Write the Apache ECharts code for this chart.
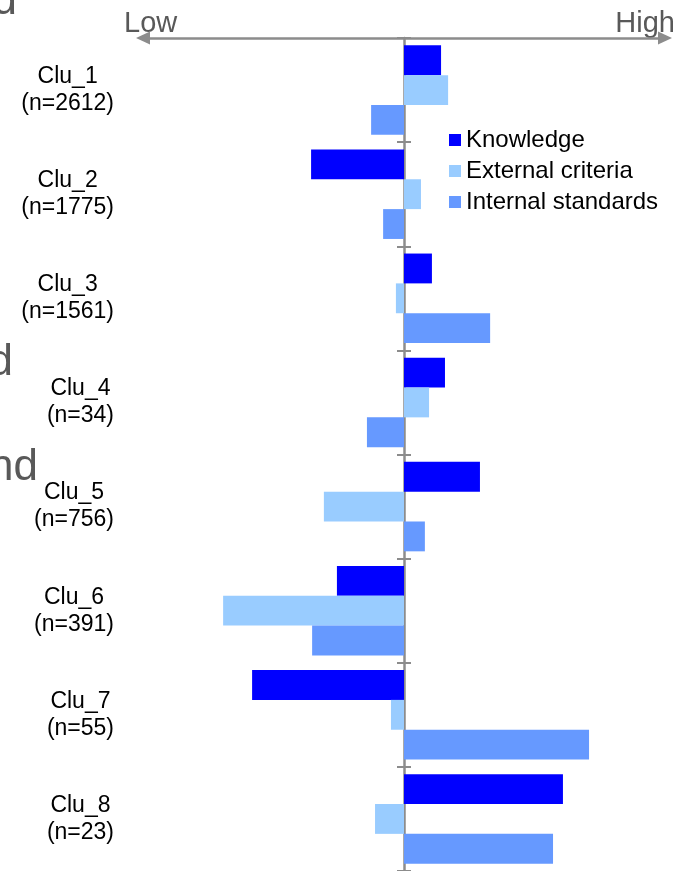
<!DOCTYPE html>
<html>
    <head>
        <meta charset="UTF-8">
        <title>Cluster profiles</title>
        <script src="https://cdn.jsdelivr.net/npm/echarts@6/dist/echarts.min.js"></script>
    </head>
    <body style="margin:0;background:#fff">
    <div id="main" style="width:684px;height:871px;"></div>
    <script type="text/javascript">
        // 数据
        var clusters = ['Clu_1', 'Clu_2', 'Clu_3', 'Clu_4', 'Clu_5', 'Clu_6', 'Clu_7', 'Clu_8'];
        var counts = [2612, 1775, 1561, 34, 756, 391, 55, 23];
        var knowledge = [0.142, -0.356, 0.107, 0.157, 0.291, -0.257, -0.582, 0.609];
        var external = [0.169, 0.065, -0.031, 0.096, -0.307, -0.693, -0.050, -0.111];
        var internal = [-0.126, -0.080, 0.330, -0.142, 0.080, -0.352, 0.709, 0.571];
        var seriesNames = ['Knowledge', 'External criteria', 'Internal standards'];
        var colors = ['#0000FF', '#99CCFF', '#6699FF'];

        var font = 'Liberation Sans, Arial, sans-serif';
        var grey = '#8c8c8c';

        var myChart = echarts.init(document.getElementById('main'));

        // 刻度轴（中间竖线），左右各一条，刻度朝外
        function tickAxis(pos, showLine) {
            return {
                type: 'category',
                data: clusters,
                inverse: true,
                position: pos,
                offset: -261,
                axisLine: { show: showLine, lineStyle: { color: grey, width: 2.5 } },
                axisTick: { show: true, inside: false, length: 7, lineStyle: { color: grey, width: 2 } },
                axisLabel: { show: false },
                splitLine: { show: false }
            };
        }

        var option = {
            backgroundColor: '#FFFFFF',
            animation: false,
            color: colors,
            grid: { left: 143, top: 38, width: 522, height: 835 },
            legend: {
                orient: 'vertical',
                left: 449,
                top: 128,
                padding: 0,
                icon: 'rect',
                itemWidth: 12,
                itemHeight: 12,
                itemGap: 7,
                textStyle: { fontFamily: font, fontSize: 24, lineHeight: 24, color: '#000' },
                data: seriesNames
            },
            xAxis: {
                type: 'value',
                position: 'top',
                min: -1,
                max: 1,
                axisLine: {
                    show: true,
                    onZero: false,
                    symbol: ['triangle', 'triangle'],
                    symbolSize: [13, 14],
                    lineStyle: { color: grey, width: 2.5 }
                },
                axisTick: { show: false },
                axisLabel: { show: false },
                splitLine: { show: false }
            },
            yAxis: [
                {
                    type: 'category',
                    data: clusters,
                    inverse: true,
                    position: 'left',
                    axisLine: { show: false },
                    axisTick: { show: false },
                    axisLabel: {
                        margin: 29,
                        align: 'right',
                        formatter: function (v, i) {
                            return '{a|' + v + '}\n{a|(n=' + counts[i] + ')}';
                        },
                        rich: {
                            a: { align: 'center', fontFamily: font, fontSize: 23, lineHeight: 27, color: '#000' }
                        }
                    }
                },
                tickAxis('left', true),
                tickAxis('right', false)
            ],
            graphic: [
                { type: 'text', left: 124, top: 9, style: { text: 'Low', fontFamily: font, fontSize: 29, fill: '#595959' } },
                { type: 'text', right: 9, top: 9, style: { text: 'High', fontFamily: font, fontSize: 29, fill: '#595959' } },
                { type: 'text', x: 17, y: 2, style: { text: 'd', align: 'right', verticalAlign: 'middle', fontFamily: font, fontSize: 44, fill: '#595959' } },
                { type: 'text', x: 13, y: 363, style: { text: 'd', align: 'right', verticalAlign: 'middle', fontFamily: font, fontSize: 44, fill: '#595959' } },
                { type: 'text', x: 38, y: 468, style: { text: 'nd', align: 'right', verticalAlign: 'middle', fontFamily: font, fontSize: 44, fill: '#595959' } }
            ],
            series: [
                { name: seriesNames[0], type: 'bar', data: knowledge, barGap: '0%', barCategoryGap: '14%' },
                { name: seriesNames[1], type: 'bar', data: external, barGap: '0%', barCategoryGap: '14%' },
                { name: seriesNames[2], type: 'bar', data: internal, barGap: '0%', barCategoryGap: '14%' }
            ]
        };

        myChart.setOption(option);
    </script>
    </body>
</html>
